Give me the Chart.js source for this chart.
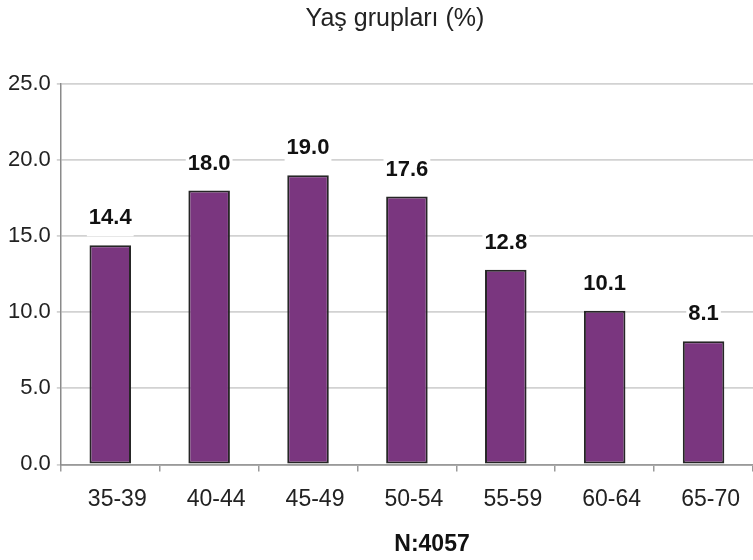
<!DOCTYPE html>
<html>
<head>
<meta charset="utf-8">
<script src="https://cdn.jsdelivr.net/npm/chart.js@4"></script>
<style>
  html, body { margin: 0; padding: 0; background: #fff; }
  #wrap { width: 753px; height: 560px; position: relative; }
</style>
</head>
<body>
<div id="wrap"><canvas id="c" width="753" height="560"></canvas></div>
<script>
// Age groups and their share (%)
const ageGroups = ['35-39', '40-44', '45-49', '50-54', '55-59', '60-64', '65-70'];
const shares = [14.4, 18.0, 19.0, 17.6, 12.8, 10.1, 8.1];
const yTicks = [0, 5, 10, 15, 20, 25];
const chartTitle = 'Yaş grupları (%)';
const sampleNote = 'N:4057';

const FONT = '"Liberation Sans", Arial, Helvetica, sans-serif';

// Value labels above each bar, on a white box that hides the grid behind them
const valueLabels = {
  id: 'valueLabels',
  afterDatasetsDraw(chart) {
    const ctx = chart.ctx;
    const meta = chart.getDatasetMeta(0);
    ctx.save();
    ctx.font = 'bold 22px ' + FONT;
    ctx.textAlign = 'center';
    ctx.textBaseline = 'middle';
    meta.data.forEach((bar, i) => {
      const txt = shares[i].toFixed(1);
      const w = ctx.measureText(txt).width;
      const cy = bar.y - 28;
      ctx.fillStyle = '#ffffff';
      ctx.fillRect(bar.x - w / 2 - 2, cy - 14, w + 4, 33);
      ctx.fillStyle = '#111111';
      ctx.fillText(txt, bar.x, cy + 1);
    });
    ctx.restore();
  }
};

// Heading at the top and sample size note below the axis
const captions = {
  id: 'captions',
  afterDraw(chart) {
    const ctx = chart.ctx;
    ctx.save();
    ctx.textAlign = 'center';
    ctx.textBaseline = 'middle';
    ctx.fillStyle = '#222222';
    ctx.font = '25px ' + FONT;
    ctx.fillText(chartTitle, 395, 19);
    ctx.fillStyle = '#111111';
    ctx.font = 'bold 23px ' + FONT;
    ctx.fillText(sampleNote, 432, 545);
    ctx.restore();
  }
};

new Chart(document.getElementById('c'), {
  type: 'bar',
  data: {
    labels: ageGroups,
    datasets: [{
      data: shares,
      backgroundColor: '#7a367f',
      borderColor: '#262626',
      borderWidth: 2,
      borderSkipped: false,
      barPercentage: 0.42,
      categoryPercentage: 1.0
    }]
  },
  options: {
    responsive: false,
    animation: false,
    devicePixelRatio: 1,
    layout: { padding: { left: 2, right: 0, top: 84, bottom: 33 } },
    plugins: {
      legend: { display: false },
      tooltip: { enabled: false },
      title: { display: false }
    },
    scales: {
      x: {
        grid: {
          display: true,
          drawOnChartArea: false,
          drawTicks: true,
          tickLength: 7,
          offset: true,
          color: '#9a9a9a',
          lineWidth: 1.5
        },
        border: { display: true, color: '#9a9a9a', width: 1.8 },
        ticks: {
          color: '#222222',
          font: { family: FONT, size: 23 },
          padding: 14,
          labelOffset: 7,
          maxRotation: 0
        }
      },
      y: {
        min: 0,
        max: 25,
        afterBuildTicks(axis) {
          axis.ticks = yTicks.map(v => ({ value: v }));
        },
        grid: {
          color: '#d2d2d2',
          lineWidth: 1.8,
          tickLength: 4,
          drawTicks: true
        },
        border: { display: true, color: '#8a8a8a', width: 1.5 },
        ticks: {
          color: '#222222',
          font: { family: FONT, size: 22 },
          padding: 6,
          callback: v => Number(v).toFixed(1)
        }
      }
    }
  },
  plugins: [valueLabels, captions]
});
</script>
</body>
</html>
